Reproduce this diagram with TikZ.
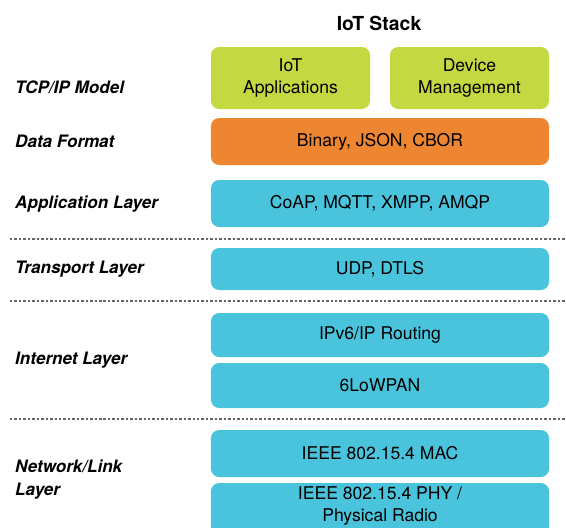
\documentclass[tikz,border=0pt]{standalone}
\usepackage{fontspec}
\setmainfont{TeX Gyre Heros}
\definecolor{limegreen}{HTML}{C4D941}
\definecolor{formatorange}{HTML}{EE8631}
\definecolor{stackcyan}{HTML}{4AC4DD}
\newcommand{\BOXFONT}{\fontsize{15}{18.5}\selectfont}
\newcommand{\NAMEFONT}{\fontsize{14.6}{19.6}\selectfont}

\tikzset{
  stackbox/.style={rounded corners=7pt, inner sep=0pt, align=center,
                   minimum width=10.14cm, font=\BOXFONT},
  layername/.style={anchor=west, align=left, inner sep=0pt,
                    font=\NAMEFONT\bfseries\itshape},
  sepline/.style={line width=1.2pt, black!60, dash pattern=on 2.1pt off 1.7pt}
}

\begin{document}
\begin{tikzpicture}[x=0.03cm, y=-0.03cm]
    \useasboundingbox (0,0) rectangle (566,527);
    \clip (0,0) rectangle (566,527);

    \node[font=\fontsize{16.5}{19}\selectfont\bfseries] (title) at (379,23) {IoT Stack};

    \node[stackbox, fill=limegreen, minimum width=4.77cm, minimum height=1.86cm] (iotapp) at (290.5,78) {IoT\\Applications};
    \node[stackbox, fill=limegreen, minimum width=4.77cm, minimum height=1.86cm] (devmgmt) at (469.5,78) {Device\\Management};

    \node[stackbox, fill=formatorange, minimum height=1.41cm] (dataformat) at (380,141.5) {Binary, JSON, CBOR};
    \node[stackbox, fill=stackcyan, minimum height=1.41cm] (applayer) at (380,203.5) {CoAP, MQTT, XMPP, AMQP};
    \node[stackbox, fill=stackcyan, minimum height=1.26cm] (transport) at (380,269) {UDP, DTLS};
    \node[stackbox, fill=stackcyan, minimum height=1.32cm] (routing) at (380,335) {IPv6/IP Routing};
    \node[stackbox, fill=stackcyan, minimum height=1.35cm] (lowpan) at (380,385.5) {6LoWPAN};
    \node[stackbox, fill=stackcyan, minimum height=1.41cm] (mac) at (380,453.5) {IEEE 802.15.4 MAC};
    \node[stackbox, fill=stackcyan, minimum height=1.71cm] (phy) at (380,511.5) {};
    \node[font=\BOXFONT, align=center, inner sep=0pt] (phytext) at (380,506) {IEEE 802.15.4 PHY /\\Physical Radio};

    \node[layername] (tcpip) at (15,87) {TCP/IP Model};
    \node[layername] (format) at (15,141) {Data Format};
    \node[layername] (application) at (15,204) {Application Layer};
    \node[layername] (transportname) at (15,269) {Transport Layer};
    \node[layername] (internet) at (15,360) {Internet Layer};
    \node[layername] (network) at (15,479.5) {Network/Link\\Layer};

    \foreach \y in {239,301,419} {
        \draw[sepline] (10,\y) -- (566,\y);
    }
\end{tikzpicture}
\end{document}
